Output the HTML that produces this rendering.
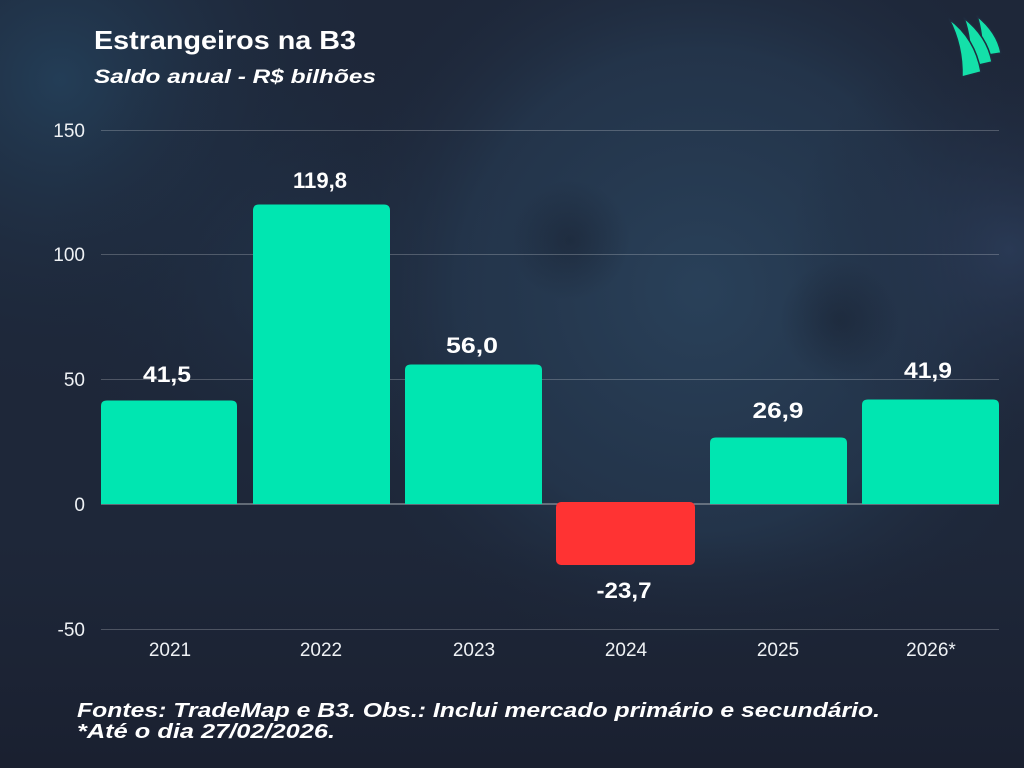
<!DOCTYPE html>
<html>
<head>
<meta charset="utf-8">
<style>
html,body{margin:0;padding:0;width:1024px;height:768px;overflow:hidden;background:#1d2638;}
svg{display:block;}
</style>
</head>
<body>
<svg width="1024" height="768" viewBox="0 0 1024 768" xmlns="http://www.w3.org/2000/svg">
<defs>
<radialGradient id="face" cx="700" cy="290" r="400" gradientUnits="userSpaceOnUse">
<stop offset="0" stop-color="#2a425b" stop-opacity="0.95"/>
<stop offset="0.6" stop-color="#263b53" stop-opacity="0.65"/>
<stop offset="1" stop-color="#1d2638" stop-opacity="0"/>
</radialGradient>
<radialGradient id="tl" cx="60" cy="80" r="340" gradientUnits="userSpaceOnUse">
<stop offset="0" stop-color="#24405a" stop-opacity="0.9"/>
<stop offset="1" stop-color="#1d2638" stop-opacity="0"/>
</radialGradient>
<radialGradient id="mid" cx="300" cy="280" r="260" gradientUnits="userSpaceOnUse">
<stop offset="0" stop-color="#22374f" stop-opacity="0.7"/>
<stop offset="1" stop-color="#1d2638" stop-opacity="0"/>
</radialGradient>
<radialGradient id="rt" cx="1010" cy="250" r="220" gradientUnits="userSpaceOnUse">
<stop offset="0" stop-color="#2c3d5a" stop-opacity="0.8"/>
<stop offset="1" stop-color="#1d2638" stop-opacity="0"/>
</radialGradient>
<radialGradient id="eye1" cx="570" cy="240" r="60" gradientUnits="userSpaceOnUse">
<stop offset="0" stop-color="#161d2c" stop-opacity="0.45"/>
<stop offset="1" stop-color="#161d2c" stop-opacity="0"/>
</radialGradient>
<radialGradient id="eye2" cx="840" cy="320" r="60" gradientUnits="userSpaceOnUse">
<stop offset="0" stop-color="#161d2c" stop-opacity="0.45"/>
<stop offset="1" stop-color="#161d2c" stop-opacity="0"/>
</radialGradient>
<linearGradient id="bot" x1="0" y1="540" x2="0" y2="768" gradientUnits="userSpaceOnUse">
<stop offset="0" stop-color="#1a2131" stop-opacity="0"/>
<stop offset="1" stop-color="#1a2030" stop-opacity="1"/>
</linearGradient>
</defs>

<!-- background -->
<rect x="0" y="0" width="1024" height="768" fill="#1e2739"/>
<rect x="0" y="0" width="1024" height="768" fill="url(#tl)"/>
<rect x="0" y="0" width="1024" height="768" fill="url(#mid)"/>
<rect x="0" y="0" width="1024" height="768" fill="url(#face)"/>
<rect x="0" y="0" width="1024" height="768" fill="url(#rt)"/>
<rect x="0" y="0" width="1024" height="768" fill="url(#eye1)"/>
<rect x="0" y="0" width="1024" height="768" fill="url(#eye2)"/>
<rect x="0" y="0" width="1024" height="768" fill="url(#bot)"/>

<!-- logo -->
<g fill="#14e0a9" stroke="#1f2c3f" stroke-width="1.5" stroke-linejoin="round">
<path d="M977 16 Q997 32 1001 53 L982 56 Q983 34 977 16 Z"/>
<path d="M964 18 Q987 36 992 62 L970 67 Q972 40 964 18 Z"/>
<path d="M949 19 Q975 38 981 72 L962 77 Q963 46 949 19 Z"/>
</g>

<!-- title -->
<text x="94" y="49" font-family="Liberation Sans, sans-serif" font-weight="bold" font-size="26" fill="#ffffff" textLength="262" lengthAdjust="spacingAndGlyphs">Estrangeiros na B3</text>
<text x="94" y="83" font-family="Liberation Sans, sans-serif" font-weight="bold" font-style="italic" font-size="19" fill="#ffffff" textLength="282" lengthAdjust="spacingAndGlyphs">Saldo anual - R$ bilhões</text>

<!-- gridlines -->
<g stroke="#ffffff" stroke-opacity="0.22" stroke-width="1">
<line x1="101" y1="130.5" x2="999" y2="130.5"/>
<line x1="101" y1="254.5" x2="999" y2="254.5"/>
<line x1="101" y1="379.5" x2="999" y2="379.5"/>
<line x1="101" y1="629.5" x2="999" y2="629.5"/>
</g>
<line x1="101" y1="504" x2="999" y2="504" stroke="#8c939c" stroke-width="1.2"/>

<!-- y tick labels -->
<g font-family="Liberation Sans, sans-serif" font-size="19" fill="#eef1f4" text-anchor="end">
<text x="85" y="137">150</text>
<text x="85" y="261">100</text>
<text x="85" y="386">50</text>
<text x="85" y="511">0</text>
<text x="85" y="636">-50</text>
</g>

<!-- bars -->
<g fill="#00e6b1">
<path d="M101 504 L101 406 Q101 400.5 107 400.5 L231 400.5 Q237 400.5 237 406 L237 504 Z"/>
<path d="M253 504 L253 210.5 Q253 204.5 259 204.5 L384 204.5 Q390 204.5 390 210.5 L390 504 Z"/>
<path d="M405 504 L405 370 Q405 364.5 411 364.5 L536 364.5 Q542 364.5 542 370 L542 504 Z"/>
<path d="M710 504 L710 443 Q710 437.5 716 437.5 L841 437.5 Q847 437.5 847 443 L847 504 Z"/>
<path d="M862 504 L862 405 Q862 399.5 868 399.5 L993 399.5 Q999 399.5 999 405 L999 504 Z"/>
</g>
<rect x="556" y="502" width="139" height="63" rx="5" ry="5" fill="#ff3333"/>

<!-- value labels -->
<g font-family="Liberation Sans, sans-serif" font-weight="bold" font-size="22" fill="#ffffff" text-anchor="middle">
<text x="167" y="382" textLength="48" lengthAdjust="spacingAndGlyphs">41,5</text>
<text x="320" y="188" textLength="54" lengthAdjust="spacingAndGlyphs">119,8</text>
<text x="472" y="353" textLength="52" lengthAdjust="spacingAndGlyphs">56,0</text>
<text x="624" y="598" textLength="55" lengthAdjust="spacingAndGlyphs">-23,7</text>
<text x="778" y="418" textLength="51" lengthAdjust="spacingAndGlyphs">26,9</text>
<text x="928" y="378" textLength="48" lengthAdjust="spacingAndGlyphs">41,9</text>
</g>

<!-- x labels -->
<g font-family="Liberation Sans, sans-serif" font-size="19" fill="#eef1f4" text-anchor="middle">
<text x="170" y="656">2021</text>
<text x="321" y="656">2022</text>
<text x="474" y="656">2023</text>
<text x="626" y="656">2024</text>
<text x="778" y="656">2025</text>
<text x="931" y="656">2026*</text>
</g>

<!-- footer -->
<g font-family="Liberation Sans, sans-serif" font-weight="bold" font-style="italic" font-size="20" fill="#ffffff">
<text x="77" y="717" textLength="803" lengthAdjust="spacingAndGlyphs">Fontes: TradeMap e B3. Obs.: Inclui mercado primário e secundário.</text>
<text x="77" y="738" textLength="258" lengthAdjust="spacingAndGlyphs">*Até o dia 27/02/2026.</text>
</g>
</svg>
</body>
</html>
